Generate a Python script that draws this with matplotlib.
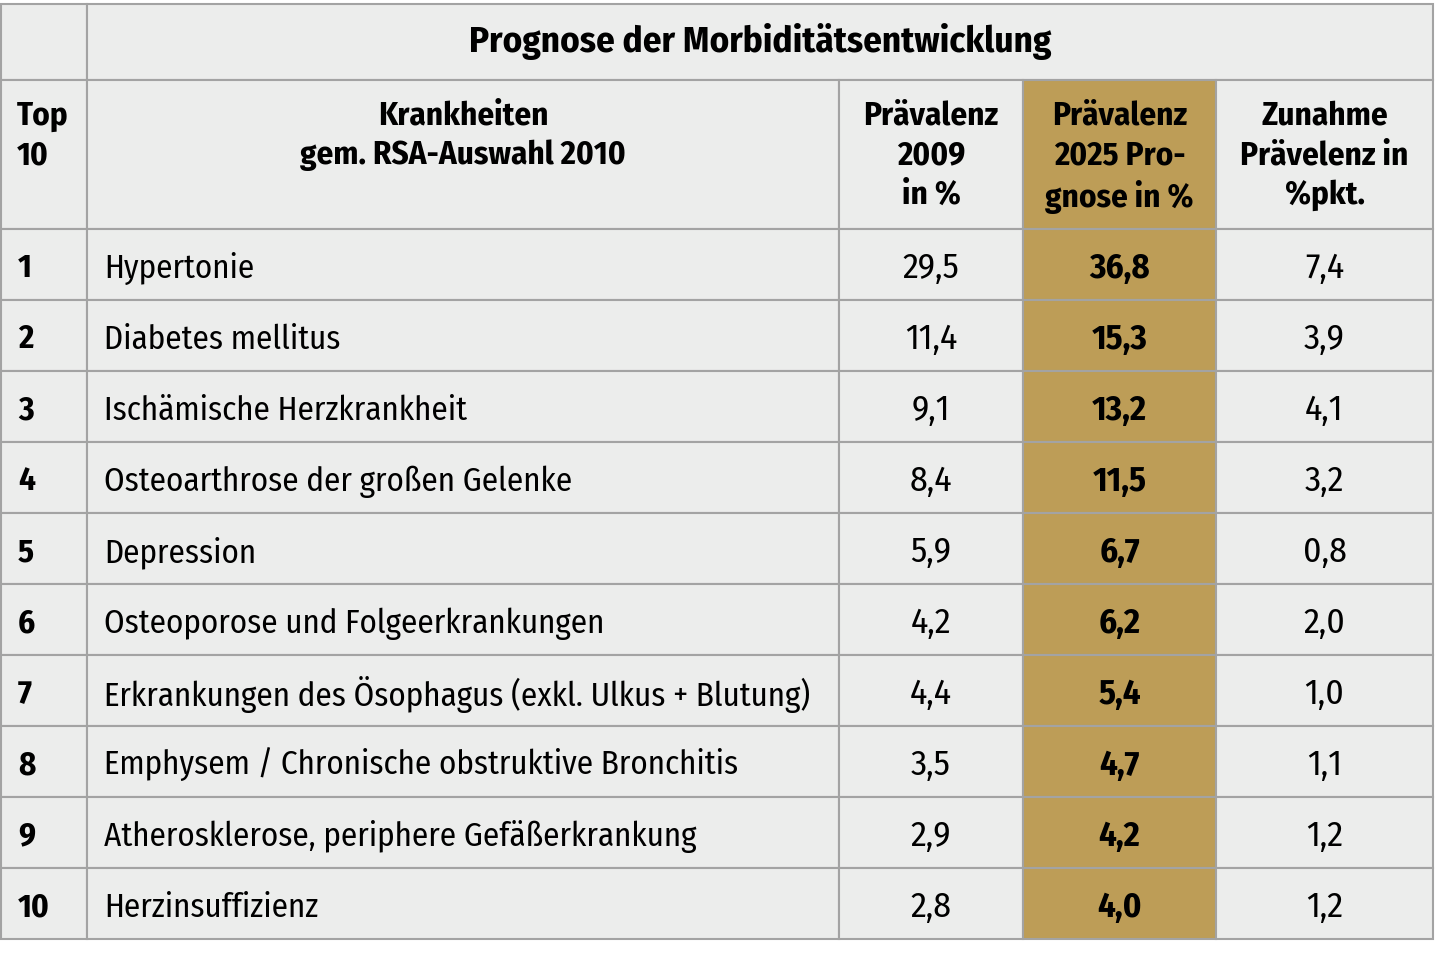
import matplotlib.pyplot as plt
from matplotlib.patches import Rectangle
from matplotlib import font_manager

# Daten
titel = "Prognose der Morbiditätsentwicklung"
kopf = ["Top\n10", "Krankheiten\ngem. RSA-Auswahl 2010", "Prävalenz\n2009\nin %",
        "Prävalenz\n2025 Pro-\ngnose in %", "Zunahme\nPrävelenz in\n%pkt."]
rang = ["1", "2", "3", "4", "5", "6", "7", "8", "9", "10"]
krankheiten = ["Hypertonie", "Diabetes mellitus", "Ischämische Herzkrankheit",
               "Osteoarthrose der großen Gelenke", "Depression",
               "Osteoporose und Folgeerkrankungen",
               "Erkrankungen des Ösophagus (exkl. Ulkus + Blutung)",
               "Emphysem / Chronische obstruktive Bronchitis",
               "Atherosklerose, periphere Gefäßerkrankung", "Herzinsuffizienz"]
praev_2009 = [29.5, 11.4, 9.1, 8.4, 5.9, 4.2, 4.4, 3.5, 2.9, 2.8]
praev_2025 = [36.8, 15.3, 13.2, 11.5, 6.7, 6.2, 5.4, 4.7, 4.2, 4.0]
zunahme = [7.4, 3.9, 4.1, 3.2, 0.8, 2.0, 1.0, 1.1, 1.2, 1.2]

def fmt(v):
    return f"{v:.1f}".replace(".", ",")

namen = {f.name for f in font_manager.fontManager.ttflist}
kandidaten = ["Fira Sans Condensed", "PT Sans Narrow", "Ubuntu Condensed",
              "Roboto Condensed", "Open Sans Condensed", "Liberation Sans Narrow"]
schrift = [k for k in kandidaten if k in namen][:1] + ["DejaVu Sans"]
plt.rcParams['font.family'] = schrift

grau = "#ecedec"
gold = "#bd9d57"
linie = "#a3a3a3"

# Layout in Pixel
spalten = [1, 87, 839, 1023, 1216, 1433]
y_titel = (5, 81)
y_kopf = (81, 230)
zeile_h = 71

fig = plt.figure(figsize=(14.36, 9.54), dpi=100)
ax = fig.add_axes([0, 0, 1, 1])
ax.set_xlim(0, 1436)
ax.set_ylim(954, 0)
ax.axis("off")

# Schriftgröße so wählen, dass die längste Zeile ~708 px breit ist
r = fig.canvas.get_renderer()
probe = ax.text(0, 0, krankheiten[6], fontsize=20)
breite = probe.get_window_extent(r).width
probe.remove()
fs = min(25, 20 * 708 / breite)

def zelle(x0, x1, y0, y1, farbe=grau):
    ax.add_patch(Rectangle((x0, y0), x1 - x0, y1 - y0, facecolor=farbe,
                           edgecolor=linie, linewidth=1.5))

# Titelzeile
zelle(spalten[0], spalten[1], *y_titel)
zelle(spalten[1], spalten[5], *y_titel)
ax.text((spalten[1] + spalten[5]) / 2, 41, titel, ha="center", va="center",
        fontsize=fs * 1.12, fontweight="bold")

# Kopfzeile
for i in range(5):
    farbe = gold if i == 3 else grau
    zelle(spalten[i], spalten[i + 1], *y_kopf, farbe)
    if i == 0:
        ax.text(17, 100, kopf[i], ha="left", va="top", fontsize=fs,
                fontweight="bold", linespacing=1.32)
    else:
        ax.text((spalten[i] + spalten[i + 1]) / 2, 100, kopf[i], ha="center",
                va="top", fontsize=fs, fontweight="bold", linespacing=1.32)

# Datenzeilen
for r_ in range(len(rang)):
    y0 = y_kopf[1] + r_ * zeile_h
    y1 = y0 + zeile_h
    yc = (y0 + y1) / 2 + 3
    for i in range(5):
        zelle(spalten[i], spalten[i + 1], y0, y1, gold if i == 3 else grau)
    ax.text(18, yc, rang[r_], ha="left", va="center", fontsize=fs, fontweight="bold")
    ax.text(104, yc, krankheiten[r_], ha="left", va="center", fontsize=fs)
    ax.text((spalten[2] + spalten[3]) / 2, yc, fmt(praev_2009[r_]), ha="center",
            va="center", fontsize=fs * 1.08)
    ax.text((spalten[3] + spalten[4]) / 2, yc, fmt(praev_2025[r_]), ha="center",
            va="center", fontsize=fs * 1.05, fontweight="bold")
    ax.text((spalten[4] + spalten[5]) / 2, yc, fmt(zunahme[r_]), ha="center",
            va="center", fontsize=fs * 1.08)

fig.savefig("out.png", dpi=100, facecolor="white")
